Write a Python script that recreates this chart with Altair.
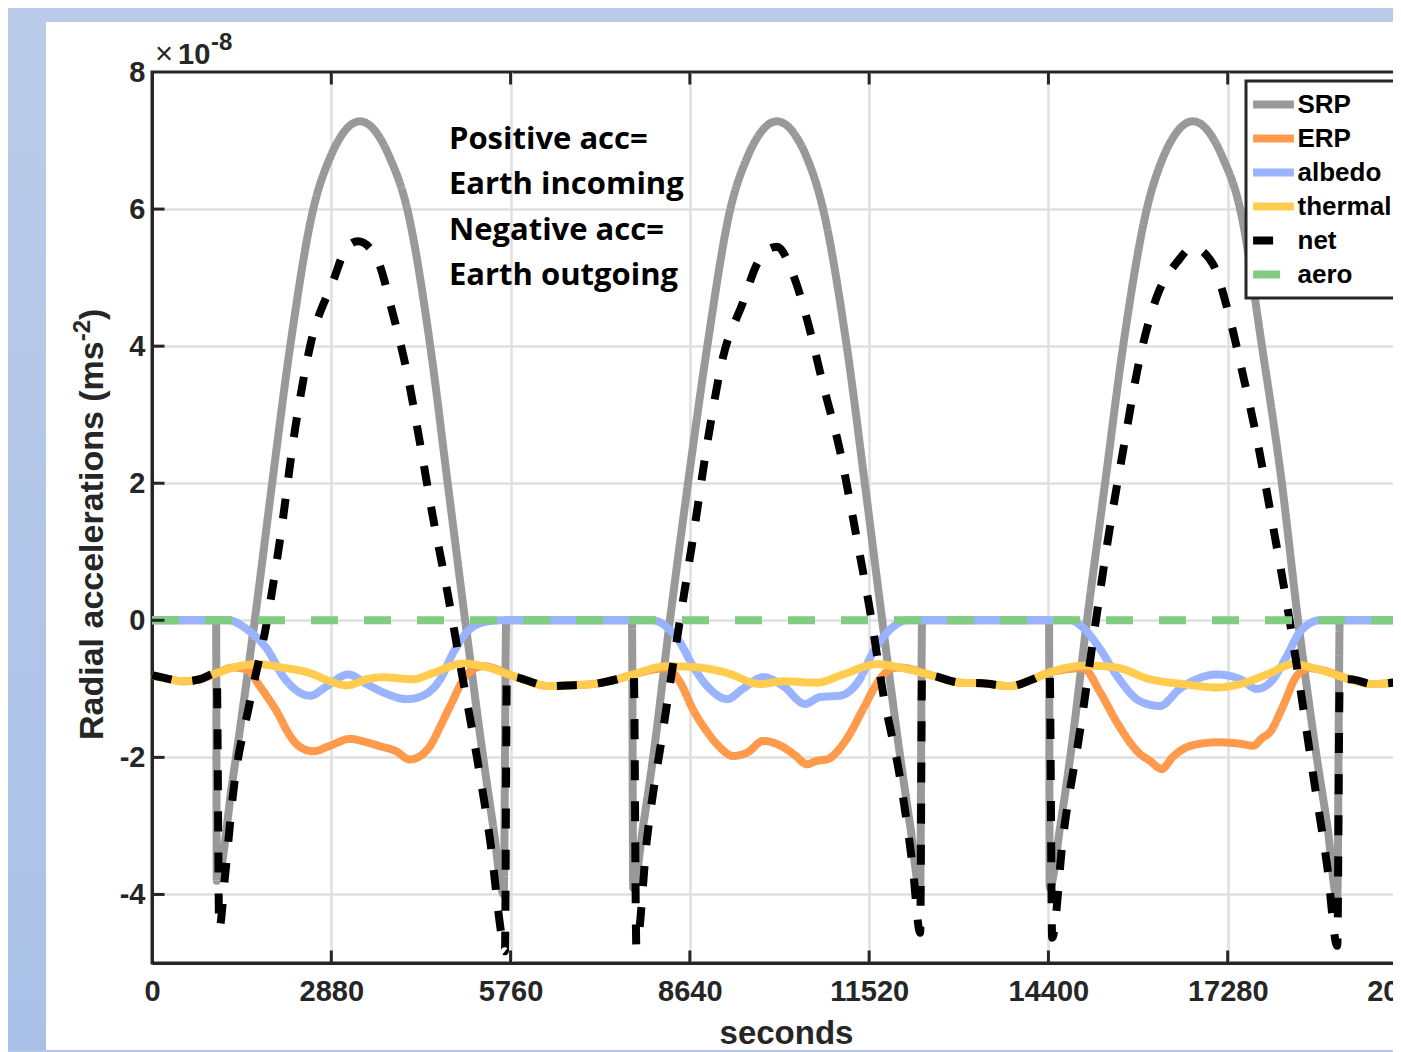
import altair as alt
import pandas as pd

# ---------------- values ----------------
SERIES = ["SRP", "ERP", "albedo", "thermal", "net", "aero"]
COLORS = ["#999999", "#FF9A4D", "#99B3FF", "#FFCC4D", "#000000", "#80CC80"]
WIDTHS = [8, 8, 6, 6, 4.5, 4.5]
DASHES = [[1, 0], [1, 0], [1, 0], [1, 0], [20, 21], [27, 26]]

X_TICKS = [0, 2880, 5760, 8640, 11520, 14400, 17280, 20160]
Y_TICKS = [-4, -2, 0, 2, 4, 6, 8]

# (seconds, acceleration x 1e-8)
SRP = [(0, 0), (1030, 0), (1040, -3.8), (1300, -2.3), (1650, 0), (1930, 2), (2220, 4), (2590, 6),
       (2860, 6.75), (3020, 7.04), (3180, 7.22), (3340, 7.28), (3500, 7.22), (3660, 7.04), (3820, 6.75),
       (4100, 6), (4470, 4), (4750, 2), (5030, 0), (5320, -2), (5480, -3.0), (5650, -4.0), (5690, 0),
       (7710, 0), (7730, -3.9), (7890, -3.0), (8050, -2.0), (8320, 0), (8610, 2), (8920, 4), (9290, 6),
       (9560, 6.75), (9720, 7.04), (9880, 7.22), (10040, 7.28), (10200, 7.22), (10360, 7.04), (10520, 6.75),
       (10780, 6), (11160, 4), (11450, 2), (11730, 0), (12020, -2), (12180, -3.0), (12340, -3.95), (12370, 0),
       (14410, 0), (14420, -3.9), (14590, -3.0), (14750, -2.0), (15020, 0), (15310, 2), (15600, 4), (15980, 6),
       (16240, 6.75), (16400, 7.04), (16560, 7.22), (16720, 7.28), (16880, 7.22), (17040, 7.04), (17200, 6.75),
       (17480, 6), (17830, 4), (18150, 2), (18410, 0), (18710, -2), (18880, -3.0), (19040, -4.07), (19080, 0),
       (20160, 0)]

ERP = [(0, -0.80), (240, -0.85), (500, -0.89), (770, -0.86), (1040, -0.77), (1300, -0.69), (1530, -0.72),
       (1730, -0.96), (2010, -1.34), (2220, -1.69), (2380, -1.85), (2590, -1.91), (2860, -1.83), (3180, -1.73),
       (3450, -1.78), (3710, -1.85), (3900, -1.90), (4140, -2.03), (4310, -1.98), (4470, -1.83), (4630, -1.55),
       (4790, -1.25), (5060, -0.79), (5320, -0.67), (5860, -0.83), (6390, -0.96), (6670, -0.95), (7080, -0.93),
       (7470, -0.86), (7730, -0.79), (8270, -0.70), (8480, -0.90), (8690, -1.30), (8920, -1.63), (9120, -1.85),
       (9330, -1.98), (9560, -1.93), (9820, -1.76), (10140, -1.85), (10330, -1.97), (10520, -2.10), (10680, -2.05),
       (10840, -2.03), (11160, -1.73), (11420, -1.30), (11690, -0.86), (11900, -0.70), (12020, -0.69),
       (12550, -0.81), (12980, -0.91), (13350, -0.92), (13780, -0.96), (14150, -0.86), (14420, -0.76),
       (14960, -0.70), (15230, -1.05), (15500, -1.49), (15870, -1.95), (16030, -2.05), (16220, -2.17),
       (16390, -2.00), (16560, -1.88), (16840, -1.80), (17110, -1.78), (17480, -1.80), (17690, -1.83),
       (17830, -1.72), (17960, -1.63), (18170, -1.25), (18390, -0.81), (18600, -0.70), (18710, -0.71),
       (19250, -0.86), (19610, -0.93), (20160, -0.88)]

ALBEDO = [(0, 0), (1250, 0), (1330, -0.02), (1410, -0.06), (1620, -0.20), (1850, -0.42), (2100, -0.81),
          (2330, -1.03), (2540, -1.10), (2810, -0.96), (3150, -0.79), (3450, -0.93), (3710, -1.05), (4100, -1.15),
          (4350, -1.10), (4630, -0.86), (4840, -0.47), (5060, -0.17), (5320, -0.03), (5590, 0),
          (8050, 0), (8270, -0.10), (8480, -0.32), (8690, -0.67), (8960, -1.00), (9240, -1.15), (9490, -1.00),
          (9820, -0.83), (10140, -0.96), (10490, -1.22), (10730, -1.12), (11050, -1.10), (11370, -0.86),
          (11580, -0.47), (11860, -0.13), (12130, 0),
          (14750, 0), (14960, -0.11), (15230, -0.42), (15500, -0.81), (15870, -1.18), (16190, -1.25),
          (16510, -1.00), (17110, -0.79), (17480, -0.86), (17750, -1.00), (18010, -0.86), (18230, -0.52),
          (18440, -0.17), (18760, 0), (20160, 0)]

THERMAL = [(0, -0.80), (240, -0.85), (500, -0.89), (770, -0.86), (1040, -0.77), (1300, -0.69), (1690, -0.64),
           (2100, -0.69), (2540, -0.77), (2860, -0.89), (3130, -0.95), (3450, -0.86), (3710, -0.83), (4190, -0.86),
           (4510, -0.77), (5000, -0.63), (5320, -0.67), (5860, -0.83), (6390, -0.96), (6670, -0.95), (7080, -0.93),
           (7470, -0.86), (7730, -0.79), (8270, -0.67), (8800, -0.69), (9240, -0.77), (9770, -0.93), (10140, -0.89),
           (10680, -0.91), (11100, -0.79), (11650, -0.64), (12020, -0.69), (12550, -0.81), (12980, -0.91),
           (13350, -0.92), (13780, -0.96), (14150, -0.86), (14420, -0.76), (15020, -0.66), (15500, -0.69),
           (16030, -0.86), (16560, -0.93), (17110, -0.98), (17480, -0.93), (17910, -0.79), (18330, -0.64),
           (18710, -0.71), (19250, -0.86), (19610, -0.93), (20160, -0.88)]

NET = [(0, -0.80), (240, -0.85), (500, -0.89), (770, -0.86), (1040, -0.77), (1080, -4.5), (1170, -3.76),
       (1300, -2.55), (1570, -1.2), (1850, 0), (2060, 1.2), (2300, 2.8), (2540, 4.0), (2910, 4.95), (3130, 5.44),
       (3310, 5.53), (3610, 5.28), (3870, 4.47), (4100, 3.6), (4310, 2.56), (4510, 1.52), (4750, 0.39),
       (4950, -0.64), (5220, -2.0), (5430, -3.2), (5640, -4.72), (5670, -4.83), (5700, -0.80),
       (5860, -0.83), (6390, -0.96), (6670, -0.95), (7080, -0.93), (7470, -0.86), (7740, -0.79), (7780, -4.75),
       (7950, -3.2), (8210, -1.6), (8480, 0), (8690, 1.2), (8930, 2.64), (9170, 3.83), (9490, 4.63), (9720, 5.2),
       (9880, 5.40), (10040, 5.45), (10300, 5.04), (10520, 4.4), (10780, 3.44), (11050, 2.48), (11320, 1.2),
       (11530, 0.16), (11740, -1.04), (12020, -2.32), (12220, -3.6), (12340, -4.56), (12370, -0.78),
       (12550, -0.81), (12980, -0.91), (13350, -0.92), (13780, -0.96), (14150, -0.86), (14420, -0.76),
       (14460, -4.63), (14630, -3.2), (14910, -1.6), (15150, -0.08), (15360, 1.2), (15600, 2.48), (15870, 3.83),
       (16140, 4.72), (16470, 5.23), (16720, 5.44), (17040, 5.2), (17270, 4.56), (17520, 3.6), (17750, 2.64),
       (18010, 1.36), (18230, 0.24), (18440, -0.96), (18650, -2.24), (18880, -3.6), (19040, -4.75),
       (19080, -0.86), (19250, -0.86), (19610, -0.93), (20160, -0.88)]

AERO = [(0, 0), (20160, 0)]

NOTE_LINES = ["Positive acc=", "Earth incoming", "Negative acc=", "Earth outgoing"]
NOTE_T = [4770, 4770, 4770, 4770]
NOTE_V = [7.01, 6.35, 5.68, 5.03]

Y_TITLE = ["Radial accelerations (ms", "-2", ")"]

# ---------------- build tables ----------------
rows = []
for name, pts in zip(SERIES, [SRP, ERP, ALBEDO, THERMAL, NET, AERO]):
    for t, v in pts:
        rows.append({"series": name, "t": t, "v": v})
df = pd.DataFrame(rows)

W, H = 1255, 891
TICK = 12.5
FONT = "Liberation Sans, Arial, Helvetica, sans-serif"
INK = "#262626"

x_scale = alt.Scale(domain=[0, 20160], nice=False, zero=False)
y_scale = alt.Scale(domain=[-5, 8], nice=False, zero=False)

x_axis = alt.Axis(values=X_TICKS, labelExpr="'' + datum.value", labelFlush=False, labelOverlap=False,
                  labelPadding=14, title="seconds", titleX=634, titleY=80, titleAlign="center",
                  titleBaseline="alphabetic",
                  gridOpacity={"condition": {"test": "datum.value <= 0 || datum.value >= 20160", "value": 0},
                               "value": 1})
y_axis = alt.Axis(values=Y_TICKS, labelExpr="'' + datum.value", labelOverlap=False, labelPadding=7,
                  title=None,
                  gridOpacity={"condition": {"test": "datum.value >= 8", "value": 0}, "value": 1})

x_enc = alt.X("t:Q", scale=x_scale, axis=x_axis)
y_enc = alt.Y("v:Q", scale=y_scale, axis=y_axis)

legend = alt.Legend(title=None, orient="none", legendX=1094, legendY=9, symbolType="M-1.2,0H1.2",
                    symbolSize=1156, clipHeight=34, labelFont=FONT, labelFontSize=26, labelFontWeight="bold",
                    labelColor="black", labelOffset=3, padding=6.5, rowPadding=0, strokeColor=INK,
                    fillColor="white", labelLimit=400, symbolOpacity=1)

color_enc = alt.Color("series:N", scale=alt.Scale(domain=SERIES, range=COLORS), legend=legend)
dash_enc = alt.StrokeDash("series:N", scale=alt.Scale(domain=SERIES, range=DASHES), legend=legend)
width_enc = alt.StrokeWidth("series:N", scale=alt.Scale(domain=SERIES, range=WIDTHS), legend=legend)

base = alt.Chart(df).mark_line(interpolate="monotone", strokeJoin="round").encode(
    x=x_enc, y=y_enc, color=color_enc, strokeDash=dash_enc, strokeWidth=width_enc)
series_layers = [base.transform_filter(alt.datum.series == s) for s in SERIES]

xt = pd.DataFrame({"t": X_TICKS[1:-1]})
yt = pd.DataFrame({"v": Y_TICKS[:-1]})
bottom_ticks = alt.Chart(xt).mark_rule(color=INK, strokeWidth=3).encode(
    x=x_enc, y=alt.value(H), y2=alt.value(H - TICK))
top_ticks = alt.Chart(xt).mark_rule(color=INK, strokeWidth=3).encode(
    x=x_enc, y=alt.value(0), y2=alt.value(TICK))
left_ticks = alt.Chart(yt).mark_rule(color=INK, strokeWidth=3).encode(
    y=y_enc, x=alt.value(0), x2=alt.value(TICK))
right_ticks = alt.Chart(yt).mark_rule(color=INK, strokeWidth=3).encode(
    y=y_enc, x=alt.value(W - TICK), x2=alt.value(W))

note_df = pd.DataFrame({"t": NOTE_T, "v": NOTE_V, "text": NOTE_LINES})
note = alt.Chart(note_df).mark_text(align="left", baseline="middle", font="Open Sans", fontWeight="bold",
                                    fontSize=31, color="black").encode(x=x_enc, y=y_enc, text="text:N")

one = pd.DataFrame({"k": [0]})
grad = alt.LinearGradient(gradient="linear", x1=0, x2=0, y1=0, y2=1,
                          stops=[alt.GradientStop(color="#bbcce9", offset=0),
                                 alt.GradientStop(color="#a9c0e8", offset=1)])
left_strip = alt.Chart(one).mark_rect(color=grad).encode(
    x=alt.value(-144), x2=alt.value(-106), y=alt.value(-64), y2=alt.value(H + 89))
top_strip = alt.Chart(one).mark_rect(color="#bacbe9").encode(
    x=alt.value(-144), x2=alt.value(W + 30), y=alt.value(-64), y2=alt.value(-50))
bottom_strip = alt.Chart(one).mark_rect(color="#b3c7e8").encode(
    x=alt.value(-144), x2=alt.value(W + 30), y=alt.value(H + 87), y2=alt.value(H + 89))

times = alt.Chart(one).mark_text(text="×", font=FONT, fontSize=31, fontWeight="normal", color=INK,
                                 align="left", baseline="alphabetic").encode(x=alt.value(3), y=alt.value(-8))
ten = alt.Chart(one).mark_text(text="10", font=FONT, fontSize=29, fontWeight="bold", color=INK,
                               align="left", baseline="alphabetic").encode(x=alt.value(26), y=alt.value(-8))
expo = alt.Chart(one).mark_text(text="-8", font=FONT, fontSize=24, fontWeight="bold", color=INK,
                                align="left", baseline="alphabetic").encode(x=alt.value(59), y=alt.value(-22))

# rotated y title with a real superscript
TS = 34
main_len = 11.727 * TS
sup_len = 0.889 * 24
yt_main = alt.Chart(one).mark_text(text=Y_TITLE[0], angle=270, align="left", baseline="alphabetic", font=FONT,
                                   fontSize=TS, fontWeight="bold", color=INK).encode(
    x=alt.value(-49), y=alt.value(668))
yt_sup = alt.Chart(one).mark_text(text=Y_TITLE[1], angle=270, align="left", baseline="alphabetic", font=FONT,
                                  fontSize=24, fontWeight="bold", color=INK).encode(
    x=alt.value(-62), y=alt.value(668 - main_len))
yt_close = alt.Chart(one).mark_text(text=Y_TITLE[2], angle=270, align="left", baseline="alphabetic", font=FONT,
                                    fontSize=TS, fontWeight="bold", color=INK).encode(
    x=alt.value(-49), y=alt.value(668 - main_len - sup_len))

chart = alt.layer(
    left_strip, top_strip, bottom_strip,
    *series_layers,
    bottom_ticks, top_ticks, left_ticks, right_ticks,
    note, times, ten, expo, yt_main, yt_sup, yt_close,
).properties(
    width=W, height=H,
    padding={"left": 144, "top": 64, "right": -14, "bottom": 89},
    autosize=alt.AutoSizeParams(type="none"),
).configure(
    background="white"
).configure_view(
    stroke=INK, strokeWidth=3, fill="white"
).configure_axis(
    labelFont=FONT, labelFontSize=29, labelFontWeight="bold", labelColor=INK,
    titleFont=FONT, titleFontSize=33, titleFontWeight="bold", titleColor=INK,
    grid=True, gridColor="#dfdfdf", gridWidth=2.5,
    domain=True, domainColor=INK, domainWidth=3,
    ticks=True, tickSize=0,
).configure_legend(
    strokeWidth=3
)

chart.save("out.html", embed_options={"renderer": "svg", "actions": False})
